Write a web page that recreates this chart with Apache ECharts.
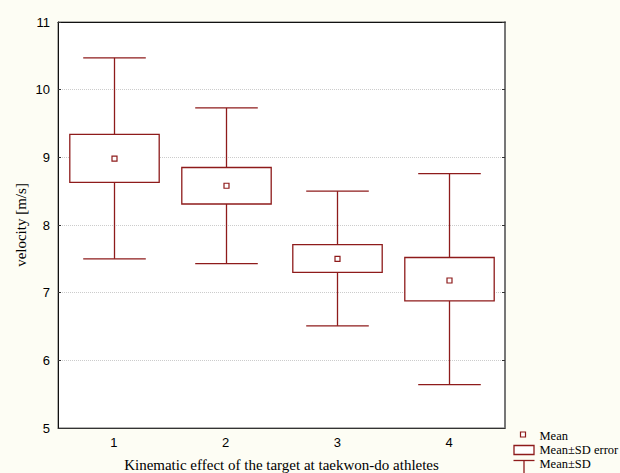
<!DOCTYPE html>
<html>
<head>
<meta charset="utf-8">
<script src="https://cdn.jsdelivr.net/npm/echarts@6/dist/echarts.min.js"></script>
<style>
html, body { margin: 0; padding: 0; background: #fdfdf4; }
#container { width: 620px; height: 473px; }
</style>
</head>
<body>
<div id="container"></div>
<script>
let chart = echarts.init(document.getElementById('container'), null, {renderer: 'svg'});

// values
var categories = ['1', '2', '3', '4'];
var means   = [8.98, 8.58, 7.50, 7.18];
var boxHigh = [9.34, 8.85, 7.71, 7.52];   // mean + SD error
var boxLow  = [8.63, 8.31, 7.30, 6.88];   // mean - SD error
var sdHigh  = [10.47, 9.73, 8.50, 8.76];  // mean + SD
var sdLow   = [7.50, 7.43, 6.51, 5.64];   // mean - SD
var yTicks  = [5, 6, 7, 8, 9, 10, 11];

var red = '#8e1b1b';
var sans = 'Liberation Sans';
var serif = 'Liberation Serif';

var rows = [];
for (var i = 0; i < categories.length; i++) {
    rows.push([i, means[i], boxLow[i], boxHigh[i], sdLow[i], sdHigh[i]]);
}

function renderBox(params, api) {
    var x = api.value(0);
    var mean = api.coord([x, api.value(1)]);
    var bLo = api.coord([x, api.value(2)]);
    var bHi = api.coord([x, api.value(3)]);
    var wLo = api.coord([x, api.value(4)]);
    var wHi = api.coord([x, api.value(5)]);
    var band = api.size([1, 0])[0];
    var boxW = band * 0.8;
    var capW = band * 0.56;
    var cx = Math.round(mean[0]) + 0.5;
    var line = {stroke: red, lineWidth: 1.3, fill: null};
    return {
        type: 'group',
        children: [
            {type: 'line', shape: {x1: cx, y1: wHi[1], x2: cx, y2: bHi[1]}, style: line},
            {type: 'line', shape: {x1: cx, y1: bLo[1], x2: cx, y2: wLo[1]}, style: line},
            {type: 'line', shape: {x1: cx - capW / 2, y1: wHi[1], x2: cx + capW / 2, y2: wHi[1]}, style: line},
            {type: 'line', shape: {x1: cx - capW / 2, y1: wLo[1], x2: cx + capW / 2, y2: wLo[1]}, style: line},
            {type: 'rect', shape: {x: cx - boxW / 2, y: bHi[1], width: boxW, height: bLo[1] - bHi[1]},
                style: {stroke: red, lineWidth: 1.3, fill: '#fff'}},
            {type: 'rect', shape: {x: cx - 2.5, y: mean[1] - 2.5, width: 5, height: 5},
                style: {stroke: red, lineWidth: 1.2, fill: '#fff'}}
        ]
    };
}

var legendText = {fontFamily: serif, fontSize: 12.5, fill: '#000'};

var option = {
    backgroundColor: '#fdfdf4',
    animation: false,
    grid: {
        left: 58, right: 115, top: 22, bottom: 45,
        outerBoundsMode: 'none',
        containLabel: false,
        show: true,
        backgroundColor: '#fff',
        borderColor: '#666',
        borderWidth: 1
    },
    xAxis: [{
        type: 'category',
        data: categories,
        boundaryGap: true,
        axisLine: {lineStyle: {color: '#333'}},
        axisTick: {inside: true, length: 3, alignWithLabel: true, lineStyle: {color: '#333'}},
        axisLabel: {fontFamily: sans, fontSize: 13, color: '#000', margin: 8},
        splitLine: {show: false},
        name: 'Kinematic effect of the target at taekwon-do athletes',
        nameLocation: 'middle',
        nameGap: 29,
        nameMoveOverlap: false,
        nameTextStyle: {fontFamily: serif, fontSize: 15, color: '#000'}
    }, {
        type: 'category',
        data: categories,
        position: 'top',
        axisLine: {lineStyle: {color: '#111'}},
        axisTick: {inside: true, length: 3, alignWithLabel: true, lineStyle: {color: '#333'}},
        axisLabel: {show: false}
    }],
    yAxis: [{
        type: 'value',
        min: yTicks[0],
        max: yTicks[yTicks.length - 1],
        interval: 1,
        axisLine: {show: true, lineStyle: {color: '#111'}},
        axisTick: {show: true, inside: true, length: 3, lineStyle: {color: '#333'}},
        axisLabel: {fontFamily: sans, fontSize: 13, color: '#000', margin: 8},
        splitLine: {show: true, lineStyle: {color: '#cccccc', type: 'dotted'}},
        name: 'velocity [m/s]',
        nameLocation: 'middle',
        nameRotate: 90,
        nameGap: 30,
        nameMoveOverlap: false,
        nameTextStyle: {fontFamily: serif, fontSize: 15, color: '#000'}
    }, {
        type: 'value',
        position: 'right',
        min: yTicks[0],
        max: yTicks[yTicks.length - 1],
        interval: 1,
        axisLine: {show: true, lineStyle: {color: '#777', width: 2}},
        axisTick: {show: true, inside: true, length: 3, lineStyle: {color: '#333'}},
        axisLabel: {show: false},
        splitLine: {show: false}
    }],
    series: [{
        type: 'custom',
        name: 'Mean',
        renderItem: renderBox,
        data: rows,
        encode: {x: 0, y: [1, 2, 3, 4, 5]},
        z: 5
    }],
    graphic: [{
        type: 'group',
        left: 511,
        top: 429,
        children: [
            {type: 'rect', shape: {x: 7, y: 3, width: 5, height: 5}, style: {stroke: red, lineWidth: 1.2, fill: '#fff'}},
            {type: 'text', x: 26, y: 0, style: Object.assign({text: 'Mean'}, legendText)},
            {type: 'rect', shape: {x: 0.5, y: 16.5, width: 20, height: 9}, style: {stroke: red, lineWidth: 1.3, fill: '#fff'}},
            {type: 'text', x: 26, y: 14, style: Object.assign({text: 'Mean±SD error'}, legendText)},
            {type: 'line', shape: {x1: 0, y1: 31.5, x2: 21, y2: 31.5}, style: {stroke: red, lineWidth: 1.3}},
            {type: 'line', shape: {x1: 10.5, y1: 31.5, x2: 10.5, y2: 46}, style: {stroke: red, lineWidth: 1.3}},
            {type: 'text', x: 26, y: 28, style: Object.assign({text: 'Mean±SD'}, legendText)}
        ]
    }]
};

chart.setOption(option);
</script>
</body>
</html>
